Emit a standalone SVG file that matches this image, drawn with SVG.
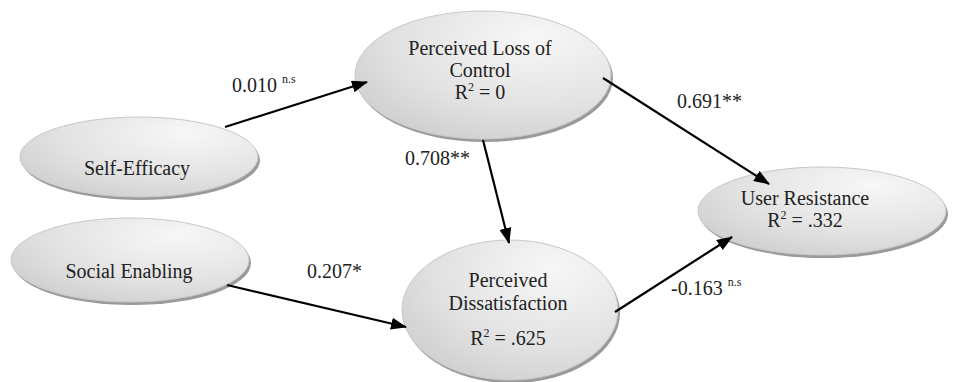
<svg xmlns="http://www.w3.org/2000/svg" width="959" height="382" viewBox="0 0 959 382">
<style>
.shadow{fill:#9a9a9a;}
.body{fill:url(#g);stroke:#c8c8c8;stroke-width:1;}
text{font-family:'Liberation Serif','Times New Roman',serif;font-size:20px;fill:#222;}
.t{text-anchor:middle;}
.sup{font-size:12px;}
.c{stroke:#000;stroke-width:2.2;fill:none;marker-end:url(#ah);}
</style>
<defs>
<radialGradient id="g" cx="0.7" cy="0.25" r="0.85" fx="0.7" fy="0.2">
<stop offset="0" stop-color="#f7f7f7"/>
<stop offset="0.6" stop-color="#e3e3e3"/>
<stop offset="1" stop-color="#cfcfcf"/>
</radialGradient>
<marker id="ah" markerWidth="16" markerHeight="12" refX="15" refY="6" orient="auto" markerUnits="userSpaceOnUse">
<path d="M0,0 L16,6 L0,12 Z" fill="#000"/>
</marker>
</defs>
<g id="self-efficacy">
<ellipse class="shadow" cx="141" cy="160" rx="119" ry="40"/>
<ellipse class="body" cx="139" cy="157" rx="119" ry="40"/>
<text class="t" x="137" y="175">Self-Efficacy</text>
</g>
<g id="social-enabling">
<ellipse class="shadow" cx="132" cy="263" rx="119" ry="42"/>
<ellipse class="body" cx="130" cy="260" rx="119" ry="42"/>
<text class="t" x="129" y="278">Social Enabling</text>
</g>
<g id="perceived-loss-of-control">
<ellipse class="shadow" cx="485" cy="78" rx="128" ry="64"/>
<ellipse class="body" cx="483" cy="75" rx="128" ry="64"/>
<text class="t" x="480" y="55">Perceived Loss of</text>
<text class="t" x="480" y="77">Control</text>
<text class="t" x="480" y="99">R<tspan class="sup" dy="-8">2</tspan><tspan dy="8"> = 0</tspan></text>
</g>
<g id="perceived-dissatisfaction">
<ellipse class="shadow" cx="512" cy="313" rx="108" ry="70"/>
<ellipse class="body" cx="510" cy="310" rx="108" ry="70"/>
<text class="t" x="508" y="287">Perceived</text>
<text class="t" x="508" y="310">Dissatisfaction</text>
<text class="t" x="508" y="345">R<tspan class="sup" dy="-8">2</tspan><tspan dy="8"> = .625</tspan></text>
</g>
<g id="user-resistance">
<ellipse class="shadow" cx="824" cy="214" rx="124" ry="44"/>
<ellipse class="body" cx="822" cy="211" rx="124" ry="44"/>
<text class="t" x="805" y="205">User Resistance</text>
<text class="t" x="805" y="227">R<tspan class="sup" dy="-8">2</tspan><tspan dy="8"> = .332</tspan></text>
</g>
<g id="connectors">
<line class="c" x1="225" y1="127" x2="367" y2="82"/>
<line class="c" x1="603" y1="78" x2="769" y2="184"/>
<line class="c" x1="483" y1="140" x2="509" y2="243"/>
<line class="c" x1="227" y1="285" x2="406" y2="327"/>
<line class="c" x1="615" y1="312" x2="732" y2="237"/>
</g>
<g id="labels">
<text x="232" y="92">0.010 <tspan class="sup" dy="-9">n.s</tspan></text>
<text x="405" y="165">0.708**</text>
<text x="677" y="108">0.691**</text>
<text x="307" y="278">0.207*</text>
<text x="671" y="295">-0.163 <tspan class="sup" dy="-9">n.s</tspan></text>
</g>
</svg>
